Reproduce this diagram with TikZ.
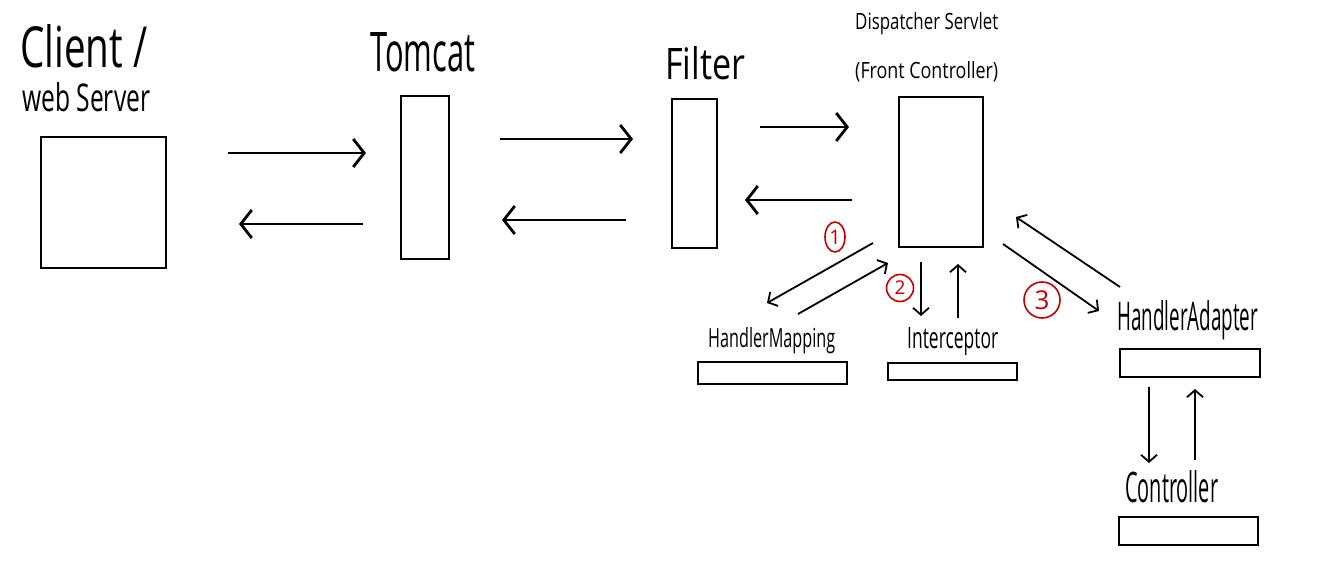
\documentclass[tikz,border=0pt]{standalone}
\usepackage{graphicx}
\usepackage{fontspec}
\setmainfont{Open Sans}
\usetikzlibrary{arrows.meta,shapes.geometric}
\newcommand\hwtext[3]{\resizebox{#1pt}{#2pt}{#3}}
\tikzset{
  box/.style={draw=black, line width=2.6pt, inner sep=0pt, fill=white},
  lbl/.style={inner sep=0pt, anchor=base west, text=black},
  bigarrow/.style={line width=2.8pt, -{Straight Barb[length=11pt, width=28pt, line width=2.8pt]}},
  smallarrow/.style={line width=1.8pt, -{Straight Barb[length=7pt, width=16pt, line width=1.8pt]}},
  num/.style={draw=red!75!black, text=red!75!black, line width=1.6pt, inner sep=0pt},
}
\begin{document}
\begin{tikzpicture}[x=1pt, y=-1pt]
\useasboundingbox[fill=white] (0,0) rectangle (1340,572);

% boxes
\node[box, minimum width=125pt, minimum height=131pt] (client) at (103.5,202.5) {};
\node[box, minimum width=48pt, minimum height=163pt] (tomcat) at (425,177.5) {};
\node[box, minimum width=45pt, minimum height=149pt] (filter) at (694.5,173.5) {};
\node[box, minimum width=84pt, minimum height=150pt] (disp) at (941,172) {};
\node[box, minimum width=149pt, minimum height=22pt] (hm) at (772.5,373) {};
\node[box, minimum width=129pt, minimum height=17pt] (icp) at (952.5,371.5) {};
\node[box, minimum width=140pt, minimum height=28pt] (ha) at (1190,363) {};
\node[box, minimum width=139pt, minimum height=28pt] (ctrl) at (1188.5,531) {};

% labels
\node[lbl] (lclient) at (20,68) {\hwtext{127}{43}{Client /}};
\node[lbl] (lweb) at (22,112) {\hwtext{128}{29}{web Server}};
\node[lbl] (ltomcat) at (370,72) {\hwtext{105}{39}{Tomcat}};
\node[lbl] (lfilter) at (665,80) {\hwtext{80}{33}{Filter}};
\node[lbl] (ldisp) at (855,30) {\hwtext{143}{17}{Dispatcher Servlet}};
\node[lbl] (lfront) at (855,79) {\hwtext{143}{17}{(Front Controller)}};
\node[lbl] (lhm) at (708,347) {\hwtext{127}{20}{HandlerMapping}};
\node[lbl] (licp) at (907,348) {\hwtext{91}{21}{Interceptor}};
\node[lbl] (lha) at (1117,330) {\hwtext{141}{30}{HandlerAdapter}};
\node[lbl] (lctrl) at (1125,502) {\hwtext{93}{32}{Controller}};

% step numbers
\node[num, ellipse, minimum width=20pt, minimum height=30pt, font=\fontsize{20}{20}\selectfont] (n1) at (835,237) {1};
\node[num, circle, minimum size=27pt, font=\fontsize{19}{19}\selectfont] (n2) at (900,288) {2};
\node[num, circle, minimum size=36pt, font=\fontsize{26}{26}\selectfont] (n3) at (1042,300) {3};

% arrow end points
\coordinate (a1s) at (228,153); \coordinate (a1e) at (366,153);
\coordinate (a2s) at (363,224); \coordinate (a2e) at (239,224);
\coordinate (a3s) at (500,139); \coordinate (a3e) at (633,139);
\coordinate (a4s) at (626,220); \coordinate (a4e) at (502,220);
\coordinate (a5s) at (760,127); \coordinate (a5e) at (849,127);
\coordinate (a6s) at (852,200); \coordinate (a6e) at (745,200);

\coordinate (b1s) at (873,243); \coordinate (b1e) at (767,303);
\coordinate (b2s) at (798,314); \coordinate (b2e) at (888,263);
\coordinate (b3s) at (921,262); \coordinate (b3e) at (921,316);
\coordinate (b4s) at (958,318); \coordinate (b4e) at (958,264);
\coordinate (b5s) at (1003,244); \coordinate (b5e) at (1099,311);
\coordinate (b6s) at (1120,287); \coordinate (b6e) at (1016,217);
\coordinate (b7s) at (1149,387); \coordinate (b7e) at (1149,463);
\coordinate (b8s) at (1195,460); \coordinate (b8e) at (1195,389);

% connectors
\draw[bigarrow] (a1s) -- (a1e);
\draw[bigarrow] (a2s) -- (a2e);
\draw[bigarrow] (a3s) -- (a3e);
\draw[bigarrow] (a4s) -- (a4e);
\draw[bigarrow] (a5s) -- (a5e);
\draw[bigarrow] (a6s) -- (a6e);

\draw[smallarrow] (b1s) -- (b1e);
\draw[smallarrow] (b2s) -- (b2e);
\draw[smallarrow] (b3s) -- (b3e);
\draw[smallarrow] (b4s) -- (b4e);
\draw[smallarrow] (b5s) -- (b5e);
\draw[smallarrow] (b6s) -- (b6e);
\draw[smallarrow] (b7s) -- (b7e);
\draw[smallarrow] (b8s) -- (b8e);
\end{tikzpicture}
\end{document}
